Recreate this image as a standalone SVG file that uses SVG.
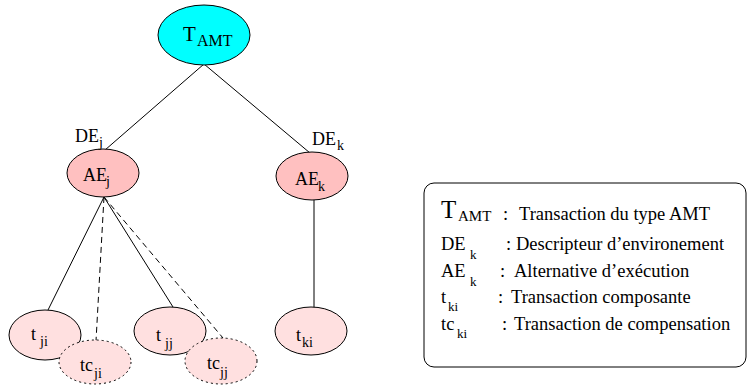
<svg xmlns="http://www.w3.org/2000/svg" width="752" height="385" viewBox="0 0 752 385">
<style>
text{font-family:"Liberation Serif","Times New Roman",serif;fill:#000}
.n{font-size:18px}
.s{font-size:14px}
.l{font-size:18.5px}
.ls{font-size:13px}
.e{stroke:#000;stroke-width:1}
.root{fill:#00ffff}
.ae{fill:#ffc0c0}
.t{fill:#ffe0e0}
.tc{fill:#ffe0e0;stroke-dasharray:2 3}
.c{stroke:#000;stroke-width:1;fill:none}
.d{stroke-dasharray:6 4}
</style>
<g id="connectors">
<line class="c" x1="204" y1="64" x2="105" y2="150"/>
<line class="c" x1="204" y1="64" x2="310" y2="153"/>
<line class="c" x1="314" y1="200" x2="314" y2="308"/>
<line class="c" x1="104" y1="197" x2="48" y2="310"/>
<line class="c" x1="104" y1="197" x2="173" y2="307"/>
<line class="c d" x1="104" y1="197" x2="96" y2="341"/>
<line class="c d" x1="104" y1="197" x2="223" y2="338"/>
</g>
<g id="T_AMT">
<ellipse class="e root" cx="204" cy="35" rx="46" ry="30"/>
<text x="183" y="41" style="font-size:21px">T</text><text x="197" y="46" style="font-size:16px">AMT</text>
</g>
<g id="AE_j">
<ellipse class="e ae" cx="103" cy="173" rx="36" ry="24"/>
<text class="n" x="83" y="181">AE</text><text class="s" x="106" y="186">j</text>
</g>
<g id="DE_j">
<text class="n" x="75" y="142">DE</text><text class="s" x="99" y="147">j</text>
</g>
<g id="AE_k">
<ellipse class="e ae" cx="312" cy="176" rx="36" ry="24"/>
<text class="n" x="295" y="185">AE</text><text class="s" x="318" y="191">k</text>
</g>
<g id="DE_k">
<text class="n" x="312" y="145">DE</text><text class="s" x="337" y="150">k</text>
</g>
<g id="t_ji">
<ellipse class="e t" cx="45" cy="335" rx="36" ry="25"/>
<text class="n" x="31" y="340">t</text><text class="s" x="40" y="346">ji</text>
</g>
<g id="tc_ji">
<ellipse class="e tc" cx="95" cy="362" rx="36" ry="22"/>
<text class="n" x="80" y="371">tc</text><text class="s" x="94" y="378">ji</text>
</g>
<g id="t_jj">
<ellipse class="e t" cx="170" cy="331" rx="36" ry="24"/>
<text class="n" x="156" y="341">t</text><text class="s" x="165" y="348">jj</text>
</g>
<g id="tc_jj">
<ellipse class="e tc" cx="221" cy="361" rx="36" ry="23"/>
<text class="n" x="207" y="369">tc</text><text class="s" x="220" y="377">jj</text>
</g>
<g id="t_ki">
<ellipse class="e t" cx="311" cy="331" rx="36" ry="24"/>
<text class="n" x="296" y="341">t</text><text class="s" x="302" y="347">ki</text>
</g>
<g id="legend">
<rect x="424" y="183" width="322" height="184" rx="10" ry="10" fill="#fff" stroke="#000" stroke-width="1"/>
<text x="441" y="218" style="font-size:25px">T</text><text x="458" y="221" style="font-size:15px">AMT</text>
<text class="l" x="503" y="220">:</text><text class="l" x="519" y="220">Transaction du type AMT</text>
<text class="l" x="441" y="250">DE</text><text class="ls" x="470" y="259">k</text>
<text class="l" x="506" y="250">:</text><text class="l" x="516" y="250">Descripteur d’environement</text>
<text class="l" x="441" y="277">AE</text><text class="ls" x="470" y="286">k</text>
<text class="l" x="500" y="277">:</text><text class="l" x="514" y="277">Alternative d’exécution</text>
<text class="l" x="441" y="303">t</text><text class="ls" x="448" y="311">ki</text>
<text class="l" x="498" y="303">:</text><text class="l" x="511" y="303">Transaction composante</text>
<text class="l" x="441" y="330">tc</text><text class="ls" x="457" y="338">ki</text>
<text class="l" x="502" y="330">:</text><text class="l" x="514" y="330">Transaction de compensation</text>
</g>
</svg>
